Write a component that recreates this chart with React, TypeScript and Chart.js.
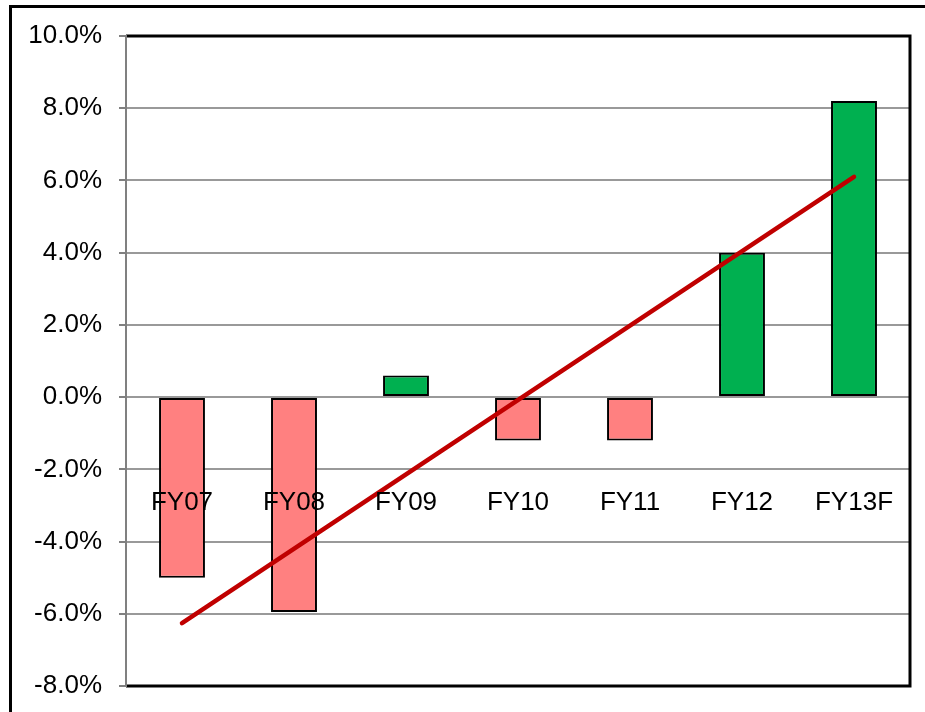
import React, { useEffect, useRef } from "react";
import { Chart, registerables } from "chart.js";

Chart.register(...registerables);

const categories = ["FY07", "FY08", "FY09", "FY10", "FY11", "FY12", "FY13F"];
const growth = [-5.0, -5.95, 0.6, -1.2, -1.2, 4.0, 8.2];
const trend = [-6.26, null, null, null, null, null, 6.1];
const yTicks = { min: -8, max: 10, step: 2 };

const FONT = "'Liberation Sans', Arial, sans-serif";

const framePlugin = {
  id: "frame",
  afterDraw(chart: any) {
    const { ctx, chartArea } = chart;
    ctx.save();
    ctx.strokeStyle = "#000";
    ctx.lineWidth = 3;
    ctx.strokeRect(10.5, 6.5, 1200, 1200);
    ctx.beginPath();
    ctx.moveTo(chartArea.left, chartArea.top);
    ctx.lineTo(chartArea.right, chartArea.top);
    ctx.lineTo(chartArea.right, chartArea.bottom);
    ctx.lineTo(chartArea.left, chartArea.bottom);
    ctx.stroke();
    ctx.strokeStyle = "#808080";
    ctx.lineWidth = 2;
    ctx.beginPath();
    ctx.moveTo(chartArea.left, chartArea.top - 1);
    ctx.lineTo(chartArea.left, chartArea.bottom + 1);
    ctx.stroke();
    ctx.restore();
  },
  afterDatasetsDraw(chart: any) {
    const { ctx } = chart;
    const xs = chart.scales.x;
    const ys = chart.scales.y;
    const baseY = ys.getPixelForValue(-3.13);
    ctx.save();
    ctx.fillStyle = "#000";
    ctx.font = `26px ${FONT}`;
    ctx.textAlign = "center";
    ctx.textBaseline = "alphabetic";
    categories.forEach((c, i) => {
      ctx.fillText(c, xs.getPixelForValue(i), baseY);
    });
    ctx.restore();
  },
};

export default function App() {
  const ref = useRef<HTMLCanvasElement>(null);
  useEffect(() => {
    document.body.style.margin = "0";
    const chart = new Chart(ref.current!, {
      type: "bar",
      data: {
        labels: categories,
        datasets: [
          {
            type: "line",
            data: trend as any,
            borderColor: "#C00000",
            borderWidth: 4.5,
            borderCapStyle: "round",
            pointRadius: 0,
            spanGaps: true,
            order: 0,
          } as any,
          {
            type: "bar",
            data: growth,
            backgroundColor: growth.map((v) => (v < 0 ? "#FF8080" : "#00B050")),
            borderColor: "#000",
            borderWidth: 2,
            borderSkipped: false,
            barPercentage: 1,
            categoryPercentage: 0.41,
            order: 1,
          } as any,
        ],
      },
      plugins: [framePlugin],
      options: {
        responsive: false,
        animation: false,
        layout: { padding: { left: 0, top: 36, right: 15, bottom: 26 } },
        plugins: { legend: { display: false }, tooltip: { enabled: false } },
        scales: {
          x: { display: false },
          y: {
            min: yTicks.min,
            max: yTicks.max,
            afterFit(scale: any) {
              scale.width = 126;
              scale.paddingTop = 0;
              scale.paddingBottom = 0;
            },
            ticks: {
              stepSize: yTicks.step,
              color: "#000",
              padding: 17,
              font: { family: FONT, size: 26 },
              callback: (v: any) => Number(v).toFixed(1) + "%",
            },
            grid: {
              color: "#999",
              lineWidth: 2,
              tickLength: 7,
              tickColor: "#808080",
            },
            border: { display: true, color: "#808080", width: 2 },
          },
        },
      },
    });
    return () => chart.destroy();
  }, []);
  return (
    <div style={{ position: "absolute", left: 0, top: 0, width: 925, height: 712, background: "#fff" }}>
      <canvas ref={ref} width={925} height={712} />
    </div>
  );
}
